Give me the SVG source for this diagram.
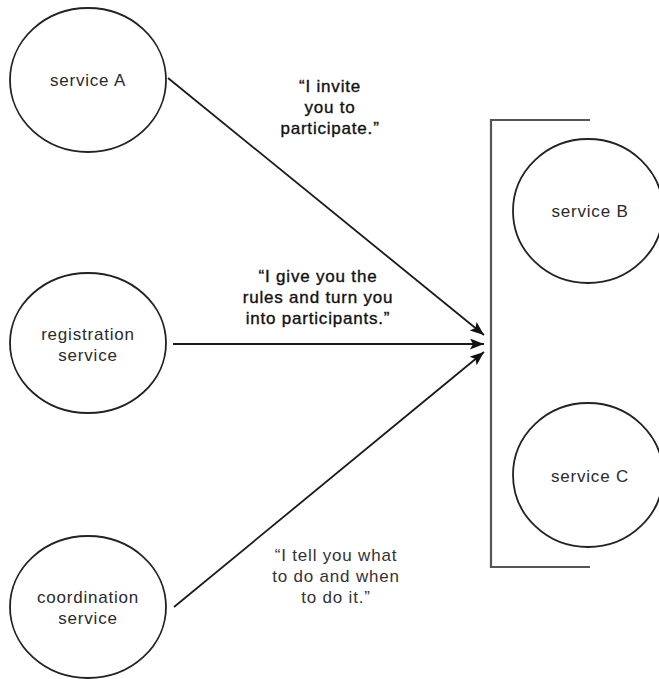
<svg xmlns="http://www.w3.org/2000/svg" width="659" height="679" viewBox="0 0 659 679">
<style>
.node{fill:#fff;stroke:#222;stroke-width:1.8}
.lbl{font-family:"Liberation Sans",Arial,sans-serif;font-size:17px;letter-spacing:0.8px;fill:#2a2a2a;text-anchor:middle}
.q{font-family:"Liberation Sans",Arial,sans-serif;font-size:17px;letter-spacing:0.8px;fill:#111;stroke:#111;stroke-width:0.35px;text-anchor:middle}
.q2{fill:#333;stroke:none}
.conn{stroke:#1a1a1a;stroke-width:1.8;fill:none}
.bracket{stroke:#555;stroke-width:2.2;fill:none}
</style>
<defs>
<marker id="arr" markerUnits="userSpaceOnUse" markerWidth="15" markerHeight="12" refX="14" refY="5.5" orient="auto">
<path d="M0,0 L14,5.5 L0,11 L3,5.5 z" fill="#111"/>
</marker>
</defs>
<rect width="659" height="679" fill="#fff"/>
<g id="group-bracket">
<path class="bracket" d="M590,120 H491 V567 H590"/>
</g>
<g id="connectors">
<line class="conn" x1="168" y1="78" x2="484" y2="335" marker-end="url(#arr)"/>
<line class="conn" x1="173" y1="344" x2="484" y2="344" marker-end="url(#arr)"/>
<line class="conn" x1="174" y1="607" x2="484" y2="352" marker-end="url(#arr)"/>
<g id="label-invite">
<text class="q" x="330" y="92">“I invite</text>
<text class="q" x="330" y="113">you to</text>
<text class="q" x="330" y="134">participate.”</text>
</g>
<g id="label-give">
<text class="q" x="318" y="282">“I give you the</text>
<text class="q" x="318" y="303">rules and turn you</text>
<text class="q" x="318" y="324">into participants.”</text>
</g>
<g id="label-tell">
<text class="q q2" x="336" y="561">“I tell you what</text>
<text class="q q2" x="336" y="582">to do and when</text>
<text class="q q2" x="336" y="603">to do it.”</text>
</g>
</g>
<g id="service-a">
<ellipse class="node" cx="88" cy="80" rx="78" ry="72"/>
<text class="lbl" x="88" y="86">service A</text>
</g>
<g id="registration-service">
<ellipse class="node" cx="88" cy="343" rx="78" ry="70"/>
<text class="lbl" x="88" y="340">registration</text>
<text class="lbl" x="88" y="361">service</text>
</g>
<g id="coordination-service">
<ellipse class="node" cx="88" cy="607" rx="78" ry="71"/>
<text class="lbl" x="88" y="603">coordination</text>
<text class="lbl" x="88" y="624">service</text>
</g>
<g id="service-b">
<ellipse class="node" cx="588" cy="211" rx="75" ry="72"/>
<text class="lbl" x="590" y="217">service B</text>
</g>
<g id="service-c">
<ellipse class="node" cx="588" cy="475" rx="75" ry="72"/>
<text class="lbl" x="590" y="482">service C</text>
</g>
</svg>
